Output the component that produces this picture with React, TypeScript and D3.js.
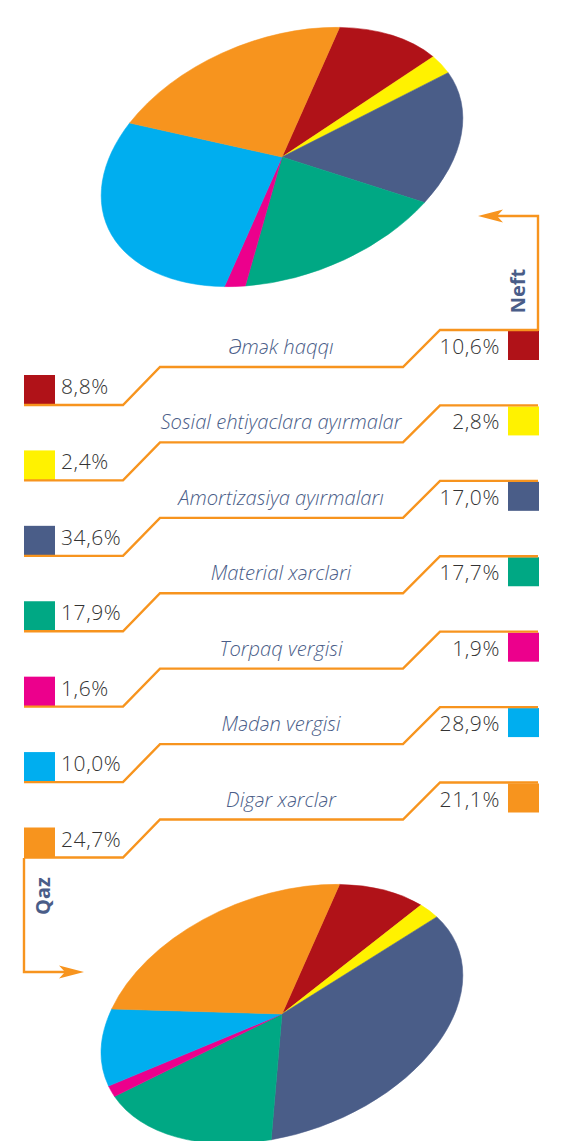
import React from "react";
import * as d3 from "d3";

const categories = [
  "Əmək haqqı",
  "Sosial ehtiyaclara ayırmalar",
  "Amortizasiya ayırmaları",
  "Material xərcləri",
  "Torpaq vergisi",
  "Mədən vergisi",
  "Digər xərclər",
];
const neftValues = [10.6, 2.8, 17.0, 17.7, 1.9, 28.9, 21.1];
const qazValues = [8.8, 2.4, 34.6, 17.9, 1.6, 10.0, 24.7];
const colors = ["#B01218", "#FFF200", "#4A5D88", "#00A884", "#EC008C", "#00AEEF", "#F7941E"];
const seriesNames = ["Neft", "Qaz"];

const W = 572;
const H = 1141;
const ORANGE = "#F7941E";
const LABEL_COLOR = "#4A5D88";
const NUM_COLOR = "#333333";

const RX = 188;
const RY = 119;
const TILT = -20.7;
const START = (32 * Math.PI) / 180;

const fmt = (v: number) => v.toFixed(1).replace(".", ",") + "%";

function Pie({ values, cx, cy }: { values: number[]; cx: number; cy: number }) {
  const pie = d3
    .pie<number>()
    .sort(null)
    .value((d) => d)
    .startAngle(START)
    .endAngle(START + 2 * Math.PI);
  const arc = d3.arc<d3.PieArcDatum<number>>().innerRadius(0).outerRadius(RX);
  const arcs = pie(values);
  return (
    <g transform={`translate(${cx},${cy}) rotate(${TILT}) scale(1,${RY / RX})`}>
      {arcs.map((a, i) => (
        <path key={i} d={arc(a) || ""} fill={colors[i]} stroke={colors[i]} strokeWidth={0.6} />
      ))}
    </g>
  );
}

export default function App() {
  const rowY = d3.scaleLinear().domain([0, categories.length - 1]).range([0, 452.5]);
  const font = "'Open Sans', 'Noto Sans', sans-serif";
  return (
    <svg
      width={W}
      height={H}
      style={{ position: "absolute", left: 0, top: 0, background: "#fff" }}
      fontFamily={font}
    >
      <Pie values={neftValues} cx={282} cy={157} />
      <Pie values={qazValues} cx={282} cy={1014} />

      {categories.map((c, i) => {
        const o = rowY(i);
        const pts: [number, number][] = [
          [24, 405 + o],
          [123, 405 + o],
          [160, 367 + o],
          [403, 367 + o],
          [440, 330 + o],
          [538, 330 + o],
        ];
        const line = d3.line()(pts) || "";
        return (
          <g key={c}>
            <rect x={24} y={375 + o} width={31} height={30} fill={colors[i]} />
            <rect x={508} y={331 + o} width={31} height={29} fill={colors[i]} />
            <path d={line} fill="none" stroke={ORANGE} strokeWidth={2.4} strokeLinejoin="miter" />
            <text x={61} y={394 + o} fontSize={21} fontWeight={300} letterSpacing={0.6} fill={NUM_COLOR}>
              {fmt(qazValues[i])}
            </text>
            <text x={500} y={354 + o} fontSize={21} fontWeight={300} letterSpacing={0.6} fill={NUM_COLOR} textAnchor="end">
              {fmt(neftValues[i])}
            </text>
            <text x={281} y={354 + o} fontSize={20.2} fontWeight={300} fontStyle="italic" fill={LABEL_COLOR} textAnchor="middle">
              {c}
            </text>
          </g>
        );
      })}

      {/* Neft connector */}
      <path d={d3.line()([[538, 331], [538, 216], [496, 216]]) || ""} fill="none" stroke={ORANGE} strokeWidth={2.4} />
      <path d="M478,216 L503,209.5 L497,216 L503,222.5 Z" fill={ORANGE} />
      <text
        transform="translate(525,291) rotate(-90)"
        fontSize={20}
        fontWeight="bold"
        fill={LABEL_COLOR}
        textAnchor="middle"
      >
        {seriesNames[0]}
      </text>

      {/* Qaz connector */}
      <path d={d3.line()([[24, 858], [24, 972], [66, 972]]) || ""} fill="none" stroke={ORANGE} strokeWidth={2.4} />
      <path d="M84,972 L59,965.5 L65,972 L59,978.5 Z" fill={ORANGE} />
      <text
        transform="translate(50,896) rotate(-90)"
        fontSize={20}
        fontWeight="bold"
        fill={LABEL_COLOR}
        textAnchor="middle"
      >
        {seriesNames[1]}
      </text>
    </svg>
  );
}
